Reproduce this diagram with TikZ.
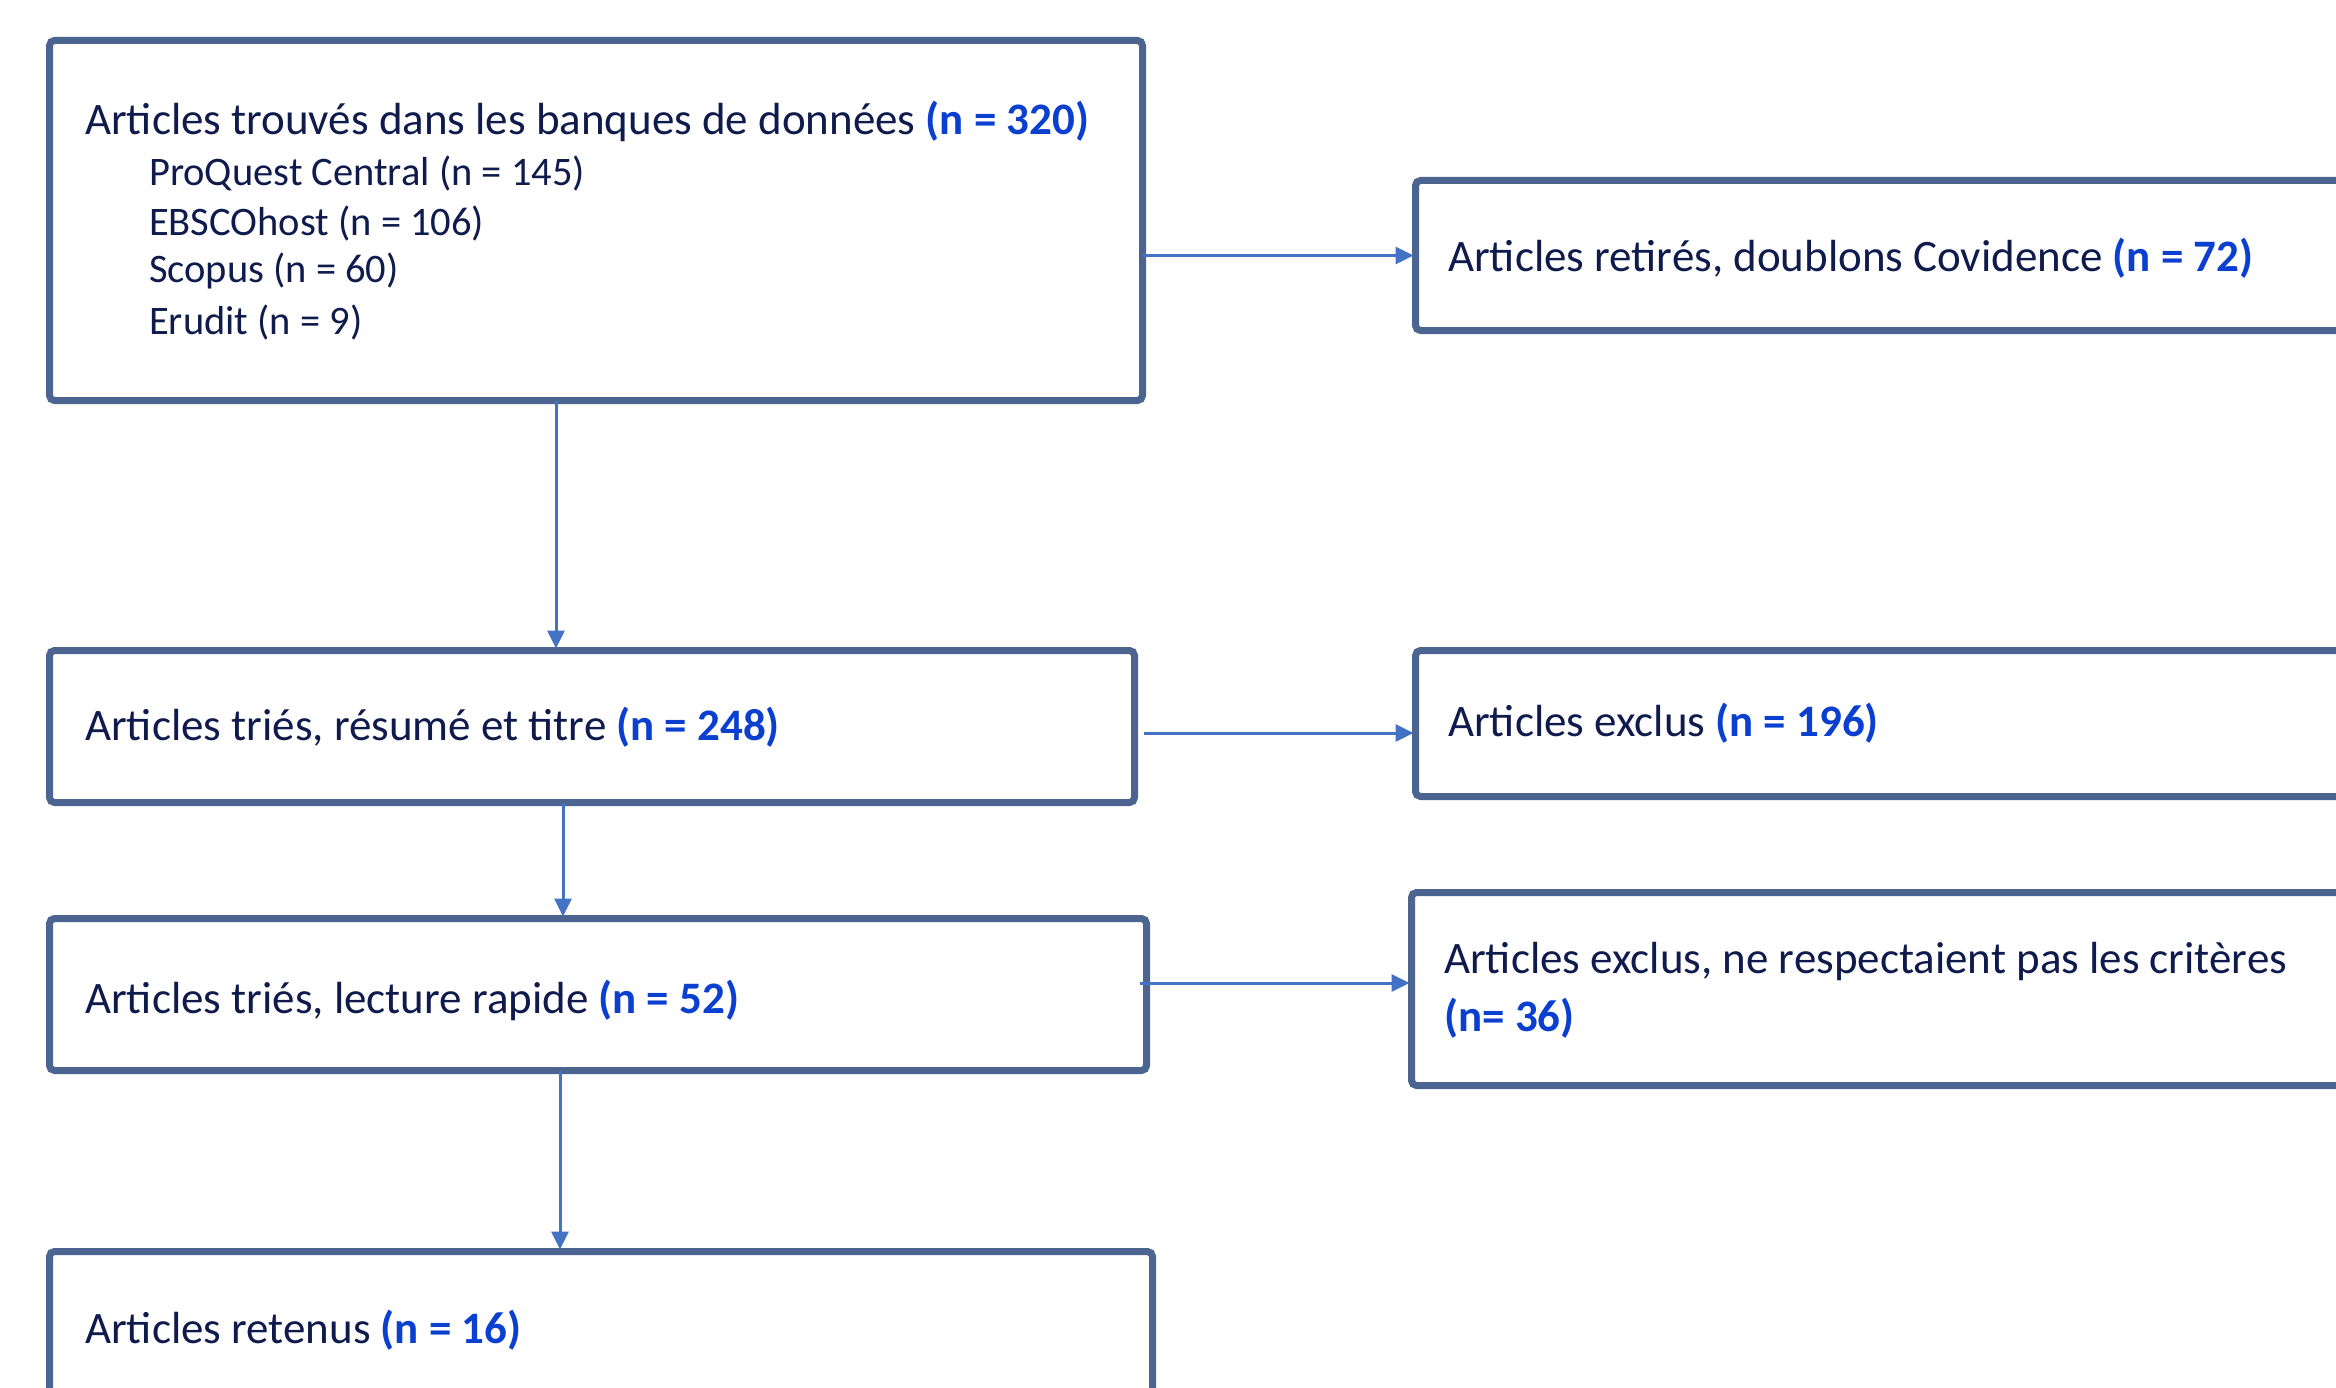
\documentclass[tikz,border=0pt]{standalone}
\usepackage{fontspec}
\setmainfont{Carlito}
\usetikzlibrary{arrows.meta,calc}
\definecolor{boxc}{HTML}{4B6590}
\definecolor{arrc}{HTML}{4472C4}
\definecolor{txtc}{HTML}{0F1B4D}
\definecolor{numc}{HTML}{0A3FD0}
\newcommand\numb[1]{{\bfseries\color{numc}#1}}
\begin{document}
\begin{tikzpicture}[x=1pt,y=-1pt,
 box/.style={draw=boxc,line width=7pt,rounded corners=5pt,fill=white,anchor=north west,inner sep=0pt,outer sep=0pt},
 lbl/.style={anchor=west,inner sep=0pt,text=txtc,font=\fontsize{45}{58}\selectfont,align=left},
 sublbl/.style={anchor=west,inner sep=0pt,text=txtc,font=\fontsize{40.5}{48}\selectfont},
 conn/.style={draw=arrc,line width=3pt,shorten >=2pt,-{Triangle[length=18pt,width=17pt]}}]
\useasboundingbox (0,0) rectangle (2336,1388);
\clip (0,0) rectangle (2336,1388);
% boxes
\node[box,minimum width=1093pt,minimum height=360pt] (b1) at (49.5,40.5) {};
\node[box,minimum width=1000pt,minimum height=150pt] (b2) at (1415.5,180.5) {};
\node[box,minimum width=1085pt,minimum height=152pt] (b3) at (49.5,650.5) {};
\node[box,minimum width=1000pt,minimum height=146pt] (b4) at (1415.5,650.5) {};
\node[box,minimum width=1097pt,minimum height=152pt] (b5) at (49.5,918.5) {};
\node[box,minimum width=1000pt,minimum height=193pt] (b6) at (1411.5,892.5) {};
\node[box,minimum width=1103pt,minimum height=220pt] (b7) at (49.5,1251.5) {};
% texts
\node[lbl] (t1) at (85,121) {Articles trouvés dans les banques de données \numb{(n = 320)}};
\node[sublbl] (s1) at (149,173) {ProQuest Central (n = 145)};
\node[sublbl] (s2) at (149,223) {EBSCOhost (n = 106)};
\node[sublbl] (s3) at (149,271) {Scopus (n = 60)};
\node[sublbl] (s4) at (149,322) {Erudit (n = 9)};
\node[lbl] (t2) at (1448,258) {Articles retirés, doublons Covidence \numb{(n = 72)}};
\node[lbl] (t3) at (85,727) {Articles triés, résumé et titre \numb{(n = 248)}};
\node[lbl] (t4) at (1448,723) {Articles exclus \numb{(n = 196)}};
\node[lbl] (t5) at (85,1000) {Articles triés, lecture rapide \numb{(n = 52)}};
\node[lbl] (t6) at (1444,990) {Articles exclus, ne respectaient pas les critères\\ \numb{(n= 36)}};
\node[lbl] (t7) at (85,1330) {Articles retenus \numb{(n = 16)}};
% connectors
\draw[conn] (b1.east |- b2.west) -- (b2.west);
\draw[conn] ([xshift=-40pt]b1.south) -- ([xshift=-40pt]b1.south |- b3.north);
\draw[conn] ([xshift=9pt,yshift=-6.5pt]b3.east) -- ([yshift=-6.5pt]b3.east -| b4.west);
\draw[conn] ([xshift=-29pt]b3.south) -- ([xshift=-29pt]b3.south |- b5.north);
\draw[conn] ([xshift=-7pt,yshift=11.5pt]b5.east) -- ([yshift=11.5pt]b5.east -| b6.west);
\draw[conn] ([xshift=-38pt]b5.south) -- ([xshift=-38pt]b5.south |- b7.north);
\end{tikzpicture}
\end{document}
